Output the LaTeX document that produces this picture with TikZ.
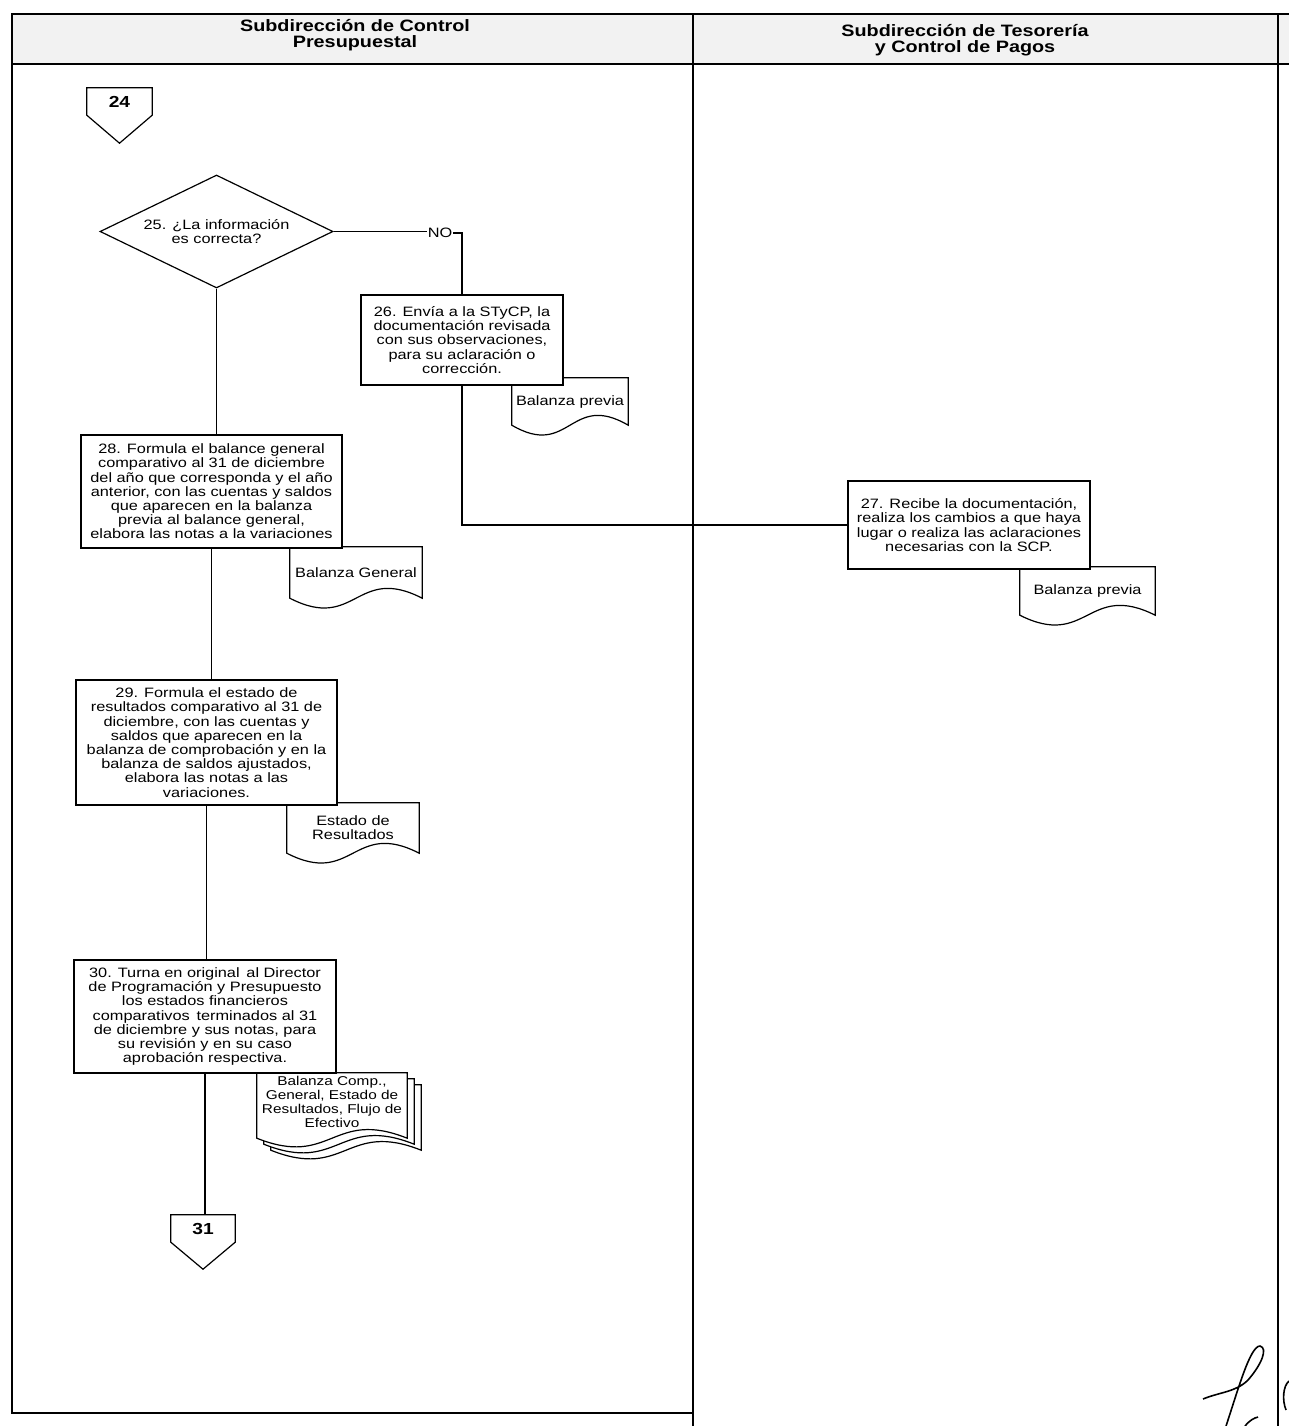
\documentclass[tikz,border=0pt]{standalone}
\usepackage{fontspec}
\setmainfont[FakeStretch=1.2]{Liberation Sans}
\usetikzlibrary{shapes.geometric,calc}
\newcommand\docshape[3]{%
  \draw[shp,#3] (#1.south west) -- (#1.north west) -- (#1.north east) -- (#1.south east)
    .. controls ($(#1.south)+(0,-#2)$) and ($(#1.south)+(0,#2)$) .. (#1.south west) -- cycle;}
\begin{document}
\begin{tikzpicture}[x=1pt,y=-1pt,
  frame/.style={line width=1.6pt},
  shp/.style={line width=1.2pt},
  conn/.style={line width=1.1pt},
  txt/.style={font=\fontsize{13.6}{14.2}\selectfont},
  box/.style={draw,line width=1.2pt,fill=white,align=center,inner sep=0pt,txt},
  doctext/.style={align=center,inner sep=0pt,txt},
  hdr/.style={align=center,font=\fontsize{16.5}{15.5}\selectfont\bfseries},
  offp/.style={minimum height=27,inner sep=0pt,font=\fontsize{16}{16}\selectfont\bfseries}]
\useasboundingbox (0,0) rectangle (1289,1426);
% lanes
\fill[black!5] (12,14) rectangle (1289,64);
\draw[frame] (1289,14) -- (12,14) -- (12,1413) -- (693,1413);
\draw[frame] (12,64) -- (1289,64);
\draw[frame] (693,14) -- (693,1426);
\draw[frame] (1278,14) -- (1278,1426);
\node[hdr] (h1) at (355,35) {Subdirección de Control\\Presupuestal};
\node[hdr] (h2) at (965,40) {Subdirección de Tesorería\\y Control de Pagos};
% connector 24
\node[offp,minimum width=65] (c24) at (119.5,101.5) {24};
\draw[shp] (c24.north west) -- (c24.north east) -- (c24.south east) -- ($(c24.south)+(0,28)$) -- (c24.south west) -- cycle;
% decision 25
\node[diamond,aspect=2,draw,line width=1.2pt,minimum width=233,minimum height=113,inner sep=0pt,align=center,txt]
  (d25) at (216.5,231.5) {25. ¿La información\\es correcta?};
\node[inner sep=1pt,txt] (no) at (440,233) {NO};
% documents (drawn first, boxes overlap their corners)
\node[doctext,minimum width=116,minimum height=47] (p26) at (570,401.5) {Balanza previa};
\docshape{p26}{34}{}
\node[doctext,minimum width=135,minimum height=48] (p27) at (1087.5,591) {Balanza previa};
\docshape{p27}{34}{}
\node[doctext,minimum width=132,minimum height=51] (p28) at (356,572.5) {Balanza General};
\docshape{p28}{34}{}
\node[doctext,minimum width=132,minimum height=50] (p29) at (353,828) {Estado de\\Resultados};
\docshape{p29}{34}{}
% multiple documents
\node[minimum width=150,minimum height=65,inner sep=0pt] (m3) at (346,1117.5) {};
\docshape{m3}{30}{fill=white}
\node[minimum width=150,minimum height=65,inner sep=0pt] (m2) at (339,1111.5) {};
\docshape{m2}{30}{fill=white}
\node[minimum width=150,minimum height=65,inner sep=0pt] (m1) at (332,1105.5) {};
\docshape{m1}{30}{fill=white}
\node[doctext,anchor=north,font=\fontsize{12.8}{14.2}\selectfont] (m1t) at ($(m1.north)+(0,3)$) {Balanza Comp.,\\General, Estado de\\Resultados, Flujo de\\Efectivo};
% boxes
\node[box,minimum width=202,minimum height=90] (b26) at (462,340) {26. Envía a la STyCP, la\\documentación revisada\\con sus observaciones,\\para su aclaración o\\corrección.};
\node[box,minimum width=242,minimum height=88] (b27) at (969,525) {27. Recibe la documentación,\\realiza los cambios a que haya\\lugar o realiza las aclaraciones\\necesarias con la SCP.};
\node[box,minimum width=261,minimum height=113] (b28) at (211.5,491.5) {28. Formula el balance general\\comparativo al 31 de diciembre\\del año que corresponda y el año\\anterior, con las cuentas y saldos\\que aparecen en la balanza\\previa al balance general,\\elabora las notas a la variaciones};
\node[box,minimum width=261,minimum height=125] (b29) at (206.5,742.5) {29. Formula el estado de\\resultados comparativo al 31 de\\diciembre, con las cuentas y\\saldos que aparecen en la\\balanza de comprobación y en la\\balanza de saldos ajustados,\\elabora las notas a las\\variaciones.};
\node[box,minimum width=262,minimum height=113] (b30) at (205,1016.5) {30. Turna en original\, al Director\\de Programación y Presupuesto\\los estados financieros\\comparativos\, terminados al 31\\de diciembre y sus notas, para\\su revisión y en su caso\\aprobación respectiva.};
% connector 31
\node[offp,minimum width=64] (c31) at (203,1228.5) {31};
\draw[shp] (c31.north west) -- (c31.north east) -- (c31.south east) -- ($(c31.south)+(0,27)$) -- (c31.south west) -- cycle;
% connectors
\draw[conn] (d25.east) -- (d25.east -| no.west);
\draw[conn] (no.east) -| (b26.north);
\draw[conn] (b26.south) |- (b27.west);
\draw[conn] (d25.south) -- (d25.south |- b28.north);
\draw[conn] (b28.south) -- (b28.south |- b29.north);
\draw[conn] (b29.south) -- (b29.south |- b30.north);
\draw[conn] (b30.south) -- (b30.south |- c31.north);
% signature
\draw[line width=1.6pt] (1203,1399) .. controls (1220,1392) and (1236,1392) .. (1248,1380)
  .. controls (1262,1364) and (1268,1348) .. (1260,1346)
  .. controls (1250,1346) and (1238,1390) .. (1226,1426);
\draw[line width=1.6pt] (1245,1426) .. controls (1250,1420) and (1254,1418) .. (1258,1417);
\draw[line width=1.6pt] (1289,1381) .. controls (1283,1386) and (1282,1400) .. (1286,1410);
\end{tikzpicture}
\end{document}
